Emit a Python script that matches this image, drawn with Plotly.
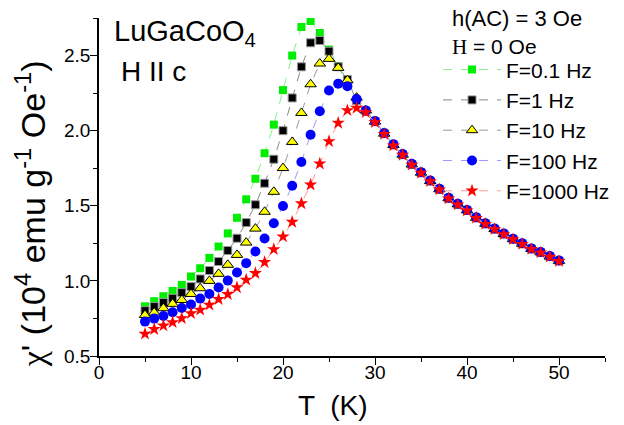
import plotly.graph_objects as go

T = [5, 6, 7, 8, 9, 10, 11, 12, 13, 14, 15, 16, 17, 18, 19, 20, 21, 22, 23, 24, 25, 26, 27, 28, 29,
     30, 31, 32, 33, 34, 35, 36, 37, 38, 39, 40, 41, 42, 43, 44, 45, 46, 47, 48, 49, 50]

chi_01Hz = [0.831, 0.865, 0.898, 0.933, 0.973, 1.029, 1.084, 1.153, 1.229, 1.316, 1.42, 1.543, 1.68, 1.85,
            2.04, 2.27, 2.50, 2.69, 2.73, 2.65, 2.54, 2.43, 2.34, 2.20, 2.13,
            2.06, 1.98, 1.905, 1.84, 1.775, 1.72, 1.665, 1.61, 1.55, 1.51, 1.47, 1.42, 1.38, 1.345,
            1.312, 1.278, 1.247, 1.213, 1.19, 1.162, 1.133]
chi_1Hz = [0.802, 0.829, 0.856, 0.884, 0.922, 0.962, 1.013, 1.069, 1.129, 1.202, 1.284, 1.388, 1.507, 1.65,
           1.81, 2.0, 2.218, 2.425, 2.585, 2.60, 2.529, 2.425, 2.34, 2.20, 2.13,
           2.06, 1.98, 1.905, 1.84, 1.775, 1.72, 1.665, 1.61, 1.55, 1.51, 1.47, 1.42, 1.38, 1.345,
           1.312, 1.278, 1.247, 1.213, 1.19, 1.162, 1.133]
chi_10Hz = [0.773, 0.789, 0.818, 0.847, 0.873, 0.913, 0.951, 1.0, 1.047, 1.107, 1.173, 1.255, 1.348, 1.46,
            1.593, 1.751, 1.925, 2.118, 2.309, 2.447, 2.478, 2.418, 2.335, 2.22, 2.135,
            2.06, 1.98, 1.905, 1.84, 1.775, 1.72, 1.665, 1.61, 1.55, 1.51, 1.47, 1.42, 1.38, 1.345,
            1.312, 1.278, 1.247, 1.213, 1.19, 1.162, 1.133]
chi_100Hz = [0.729, 0.749, 0.766, 0.791, 0.82, 0.843, 0.882, 0.913, 0.956, 1.002, 1.056, 1.118, 1.196, 1.282,
             1.384, 1.498, 1.633, 1.791, 1.973, 2.129, 2.267, 2.313, 2.296, 2.21, 2.135,
             2.065, 1.985, 1.91, 1.845, 1.78, 1.724, 1.668, 1.613, 1.553, 1.513, 1.472, 1.423, 1.383, 1.348,
             1.315, 1.28, 1.25, 1.216, 1.192, 1.165, 1.136]
chi_1000Hz = [0.647, 0.678, 0.702, 0.724, 0.751, 0.784, 0.807, 0.84, 0.878, 0.911, 0.956, 1.007, 1.051, 1.124,
              1.21, 1.295, 1.392, 1.515, 1.64, 1.78, 1.929, 2.051, 2.135, 2.151, 2.122,
              2.055, 1.977, 1.90, 1.838, 1.772, 1.718, 1.662, 1.608, 1.548, 1.508, 1.467, 1.418, 1.378, 1.343,
              1.31, 1.276, 1.245, 1.211, 1.188, 1.16, 1.131]

names = ["F=0.1 Hz", "F=1 Hz", "F=10 Hz", "F=100 Hz", "F=1000 Hz"]
series = [chi_01Hz, chi_1Hz, chi_10Hz, chi_100Hz, chi_1000Hz]
styles = [
    dict(symbol="square", size=8, color="#00ee00", line=dict(width=0), lc="#88ee88"),
    dict(symbol="square", size=8, color="#000000", line=dict(width=1, color="#999999"), lc="#888888"),
    dict(symbol="triangle-up", size=10, color="#ffff00", line=dict(width=1, color="#000000"), lc="#999999"),
    dict(symbol="circle", size=10, color="#0000ff", line=dict(width=0), lc="#9999ff"),
    dict(symbol="star", size=10, color="#ff0000", line=dict(width=0), lc="#ff9999"),
]

FONT = "Liberation Sans, Arial, sans-serif"
fig = go.Figure()
for nm, ys, st in zip(names, series, styles):
    fig.add_trace(go.Scatter(
        x=T, y=ys, name=nm, mode="lines+markers",
        line=dict(color=st["lc"], width=1, dash="dash"),
        marker=dict(symbol=st["symbol"], size=st["size"], color=st["color"], line=st["line"]),
    ))

axis_common = dict(showline=True, linecolor="black", linewidth=1.5, ticks="outside", ticklen=7,
                   tickwidth=1.2, tickcolor="black", showgrid=False, zeroline=False, mirror=False,
                   automargin=False, tickfont=dict(family=FONT, size=19, color="black"))
fig.update_xaxes(range=[0, 55], tick0=0, dtick=10, ticklabelstandoff=-9,
                 minor=dict(ticks="outside", ticklen=4, dtick=5, tick0=0, tickcolor="black", tickwidth=1.2),
                 **axis_common)
fig.update_yaxes(range=[0.5, 2.75], tick0=0.5, dtick=0.5, tickformat=".1f", ticklabelstandoff=-4,
                 minor=dict(ticks="outside", ticklen=4, dtick=0.25, tick0=0.5, tickcolor="black", tickwidth=1.2),
                 **axis_common)

fig.update_layout(
    width=624, height=425,
    margin=dict(l=99, r=19, t=18, b=69, pad=0, autoexpand=False),
    paper_bgcolor="white", plot_bgcolor="white",
    font=dict(family=FONT, color="black"),
    legend=dict(x=0.67, y=0.907, xanchor="left", yanchor="top", bgcolor="rgba(0,0,0,0)",
                font=dict(family=FONT, size=21, color="black"), itemwidth=58, tracegroupgap=0),
    annotations=[
        dict(text="T  (K)", xref="paper", yref="paper", x=0.461, y=-0.145, showarrow=False,
             xanchor="center", yanchor="middle", font=dict(size=28, family=FONT)),
        dict(text="<span style='font-family:Liberation Serif'>χ</span>' (10<sup>4</sup> emu g<sup>-1</sup> Oe<sup>-1</sup>)",
             xref="paper", yref="paper",
             x=-0.136, y=0.42, showarrow=False, textangle=-90, xanchor="center", yanchor="middle",
             font=dict(size=34, family=FONT)),
        dict(text="LuGaCoO<sub>4</sub>", xref="paper", yref="paper", x=0.026, y=1.014, showarrow=False,
             xanchor="left", yanchor="top", font=dict(size=29, family=FONT)),
        dict(text="H II c", xref="paper", yref="paper", x=0.04, y=0.893, showarrow=False,
             xanchor="left", yanchor="top", font=dict(size=28, family=FONT)),
        dict(text="h(AC) = 3 Oe", xref="paper", yref="paper", x=0.694, y=1.0, showarrow=False,
             xanchor="left", yanchor="middle", font=dict(size=22, family=FONT)),
        dict(text="<span style='font-family:Liberation Serif'>H</span> = 0 Oe", xref="paper", yref="paper",
             x=0.694, y=0.913, showarrow=False, xanchor="left", yanchor="middle", font=dict(size=21, family=FONT)),
    ],
)

fig.write_html("out.html", config={"displayModeBar": False},
               post_script="document.body.style.margin='0';")
